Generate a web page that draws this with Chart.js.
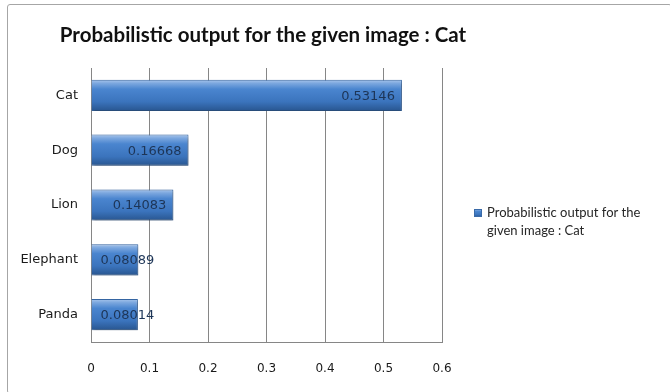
<!DOCTYPE html>
<html>
<head>
<meta charset="utf-8">
<script src="https://cdn.jsdelivr.net/npm/chart.js@4/dist/chart.umd.min.js"></script>
<style>
  html, body { margin: 0; padding: 0; background: #fff; }
  #wrap { position: relative; width: 670px; height: 392px; }
  #frame { position: absolute; left: 7px; top: 4px; right: -2px; bottom: -2px;
           border: 1px solid #a6a6a6; border-radius: 3px; pointer-events: none; }
</style>
</head>
<body>
<div id="wrap">
  <canvas id="chart" width="670" height="392"></canvas>
  <div id="frame"></div>
</div>
<script>
// chart data
const categories = ['Cat', 'Dog', 'Lion', 'Elephant', 'Panda'];
const probabilities = [0.53146, 0.16668, 0.14083, 0.08089, 0.08014];
const seriesName = 'Probabilistic output for the given image : Cat';
const xTicks = [0, 0.1, 0.2, 0.3, 0.4, 0.5, 0.6];

const labelFont = '13px "DejaVu Sans"';

function barGradient(ctx, top, bottom) {
    const g = ctx.createLinearGradient(0, top, 0, bottom);
    g.addColorStop(0, '#a9c6ec');
    g.addColorStop(0.12, '#7aa6de');
    g.addColorStop(0.3, '#4a85cf');
    g.addColorStop(0.7, '#3b74bd');
    g.addColorStop(1, '#28558f');
    return g;
}

// gradient fill + soft shadow on the bars
const barStyle = {
    id: 'barStyle',
    beforeDatasetsDraw(chart) {
        const ctx = chart.ctx;
        chart.getDatasetMeta(0).data.forEach(el => {
            const p = el.getProps(['y', 'height'], true);
            // options are shared between bars, so give each bar its own copy
            el.options = Object.assign({}, el.options, {
                backgroundColor: barGradient(ctx, p.y - p.height / 2, p.y + p.height / 2)
            });
        });
        ctx.save();
        ctx.shadowColor = 'rgba(0,0,0,0.35)';
        ctx.shadowBlur = 3;
        ctx.shadowOffsetX = 1;
        ctx.shadowOffsetY = 2;
    },
    afterDatasetsDraw(chart) {
        chart.ctx.restore();
    }
};

// value labels, "inside end" like the original
const valueLabels = {
    id: 'valueLabels',
    afterDatasetsDraw(chart) {
        const ctx = chart.ctx;
        ctx.save();
        ctx.font = labelFont;
        ctx.fillStyle = '#1d3557';
        ctx.textBaseline = 'middle';
        chart.getDatasetMeta(0).data.forEach((el, i) => {
            const p = el.getProps(['x', 'y', 'base'], true);
            const txt = String(probabilities[i]);
            const w = ctx.measureText(txt).width;
            const x = Math.max(p.base + 9, p.x - 7 - w);
            ctx.fillText(txt, x, p.y + 1);
        });
        ctx.restore();
    }
};

// legend on the right, wrapped onto two lines
const sideLegend = {
    id: 'sideLegend',
    afterDraw(chart) {
        const ctx = chart.ctx;
        ctx.save();
        ctx.font = '13px Lato';
        ctx.fillStyle = '#262626';
        ctx.textBaseline = 'middle';
        const words = seriesName.split(' ');
        const lines = [];
        let line = '';
        words.forEach(w => {
            const test = line ? line + ' ' + w : w;
            if (ctx.measureText(test).width > 178 && line) {
                lines.push(line);
                line = w;
            } else {
                line = test;
            }
        });
        lines.push(line);
        const x = 487, y = 213;
        lines.forEach((l, i) => ctx.fillText(l, x, y + i * 18));
        ctx.fillStyle = barGradient(ctx, y - 4, y + 4);
        ctx.fillRect(474, y - 4, 8, 8);
        ctx.strokeStyle = '#3a6aa8';
        ctx.lineWidth = 1;
        ctx.strokeRect(474.5, y - 3.5, 7, 7);
        ctx.restore();
    }
};

new Chart(document.getElementById('chart'), {
    type: 'bar',
    data: {
        labels: categories,
        datasets: [{
            label: seriesName,
            data: probabilities,
            backgroundColor: '#4a85cf',
            borderColor: '#3566a3',
            borderWidth: 1,
            barPercentage: 0.57,
            categoryPercentage: 1
        }]
    },
    options: {
        indexAxis: 'y',
        responsive: false,
        animation: false,
        // right padding keeps the title centred like the original,
        // the empty right axis (rightGap) reserves the legend column
        layout: { padding: { left: 0, right: 144, top: 0, bottom: 0 } },
        plugins: {
            legend: { display: false },
            tooltip: { enabled: false },
            title: {
                display: true,
                text: seriesName,
                color: '#111',
                font: { family: 'Lato', size: 20.5, weight: 'bold', lineHeight: 1.2 },
                padding: { top: 23, bottom: 20.4 }
            }
        },
        scales: {
            x: {
                min: 0,
                max: 0.6,
                afterBuildTicks: s => { s.ticks = xTicks.map(v => ({ value: v })); },
                afterFit: s => { s.height = 50; },
                grid: { color: '#868686', drawTicks: false },
                border: { display: true, color: '#868686' },
                ticks: {
                    padding: 20,
                    color: '#1a1a1a',
                    font: { family: 'DejaVu Sans', size: 12 },
                    callback: v => String(v)
                }
            },
            y: {
                afterFit: s => { s.width = 91; },
                grid: { display: false, drawTicks: false },
                border: { display: true, color: '#868686' },
                ticks: {
                    padding: 13,
                    color: '#1a1a1a',
                    font: { family: 'DejaVu Sans', size: 13 }
                }
            },
            rightGap: {
                axis: 'y',
                type: 'linear',
                position: 'right',
                min: 0,
                max: 1,
                afterFit: s => { s.width = 84; },
                grid: { display: false, drawTicks: false },
                border: { display: false },
                ticks: { display: false }
            }
        }
    },
    plugins: [barStyle, valueLabels, sideLegend]
});
</script>
</body>
</html>
